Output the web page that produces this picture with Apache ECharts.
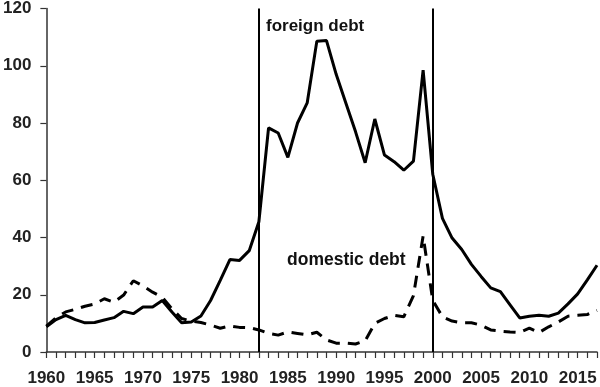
<!DOCTYPE html>
<html>
<head>
<meta charset="utf-8">
<script src="https://cdn.jsdelivr.net/npm/echarts@6/dist/echarts.min.js"></script>
<style>html,body{margin:0;padding:0;background:#fff}#c{width:600px;height:387px}</style>
</head>
<body>
<div id="c"></div>
<script>
var years = [];
for (var y = 1960; y <= 2017; y++) years.push(y);

var foreignDebt = [
  8.8, 11.3, 12.8, 11.3, 10.2, 10.3, 11.2, 12.0, 14.2, 13.4,
  15.7, 15.7, 18.0, 14.0, 10.2, 10.5, 12.6, 18.0, 25.0, 32.3,
  32.0, 35.4, 45.5, 78.3, 76.5, 68.0, 80.0, 87.0, 108.6, 108.8,
  97.0, 87.0, 77.0, 66.1, 81.4, 68.8, 66.5, 63.5, 66.7, 98.5,
  62.1, 46.7, 39.8, 35.8, 30.6, 26.4, 22.4, 21.1, 16.5, 11.9,
  12.5, 12.8, 12.5, 13.6, 16.8, 20.3, 25.2, 30.3
];
var domesticDebt = [
  9.0, 12.0, 14.0, 14.9, 16.0, 16.8, 18.6, 17.4, 19.9, 24.9,
  23.1, 20.9, 19.1, 15.1, 11.7, 10.8, 10.3, 9.4, 8.3, 9.1,
  8.6, 8.5, 7.7, 6.5, 5.9, 7.0, 6.5, 6.0, 6.9, 4.2,
  3.1, 3.1, 2.8, 3.9, 10.0, 11.7, 12.8, 12.3, 19.7, 40.5,
  18.0, 12.3, 10.8, 10.2, 10.2, 9.4, 7.7, 7.3, 7.0, 6.8,
  8.3, 6.8, 8.8, 10.5, 12.5, 12.8, 13.1, 14.5
];
var breakYears = [1982, 2000];
var yTicks = [0, 20, 40, 60, 80, 100, 120];
var labels = { foreign: 'foreign debt', domestic: 'domestic debt' };

function pairs(vals) {
  return years.map(function (yr, i) { return [yr, vals[i]]; });
}

var font = "'Liberation Sans', Arial, sans-serif";
var chart = echarts.init(document.getElementById('c'), null, { renderer: 'canvas' });
chart.setOption({
  animation: false,
  backgroundColor: '#fff',
  grid: { left: 43, right: 1, top: 5, bottom: 33, containLabel: false },
  xAxis: {
    type: 'value', min: years[0], max: years[years.length - 1], interval: 1,
    splitLine: { show: false },
    axisLine: { lineStyle: { color: '#333', width: 1.5 } },
    axisTick: { inside: false, length: 6, lineStyle: { color: '#333', width: 1.2 } },
    axisLabel: {
      margin: 18, color: '#222', fontFamily: font, fontWeight: 'bold', fontSize: 17,
      formatter: function (v) { return v % 5 === 0 ? String(v) : ''; }
    }
  },
  yAxis: {
    type: 'value', min: yTicks[0], max: yTicks[yTicks.length - 1], interval: 20,
    splitLine: { show: false },
    axisLine: { show: true, lineStyle: { color: '#333', width: 1.5 } },
    axisTick: { show: true, length: 6, lineStyle: { color: '#333', width: 1.2 } },
    axisLabel: { margin: 15, color: '#222', fontFamily: font, fontWeight: 'bold', fontSize: 17 }
  },
  series: [
    {
      type: 'line', name: labels.foreign, data: pairs(foreignDebt), symbol: 'none',
      lineStyle: { color: '#000', width: 3 },
      markLine: {
        silent: true, symbol: 'none', label: { show: false },
        lineStyle: { color: '#000', width: 2, type: 'solid' },
        data: breakYears.map(function (b) { return { xAxis: b }; })
      }
    },
    {
      type: 'line', name: labels.domestic, data: pairs(domesticDebt), symbol: 'none',
      lineStyle: { color: '#000', width: 3, type: [12, 8] }
    }
  ],
  graphic: [
    { type: 'text', left: 266, top: 18, style: { text: labels.foreign, fill: '#111', font: 'bold 17px ' + font } },
    { type: 'text', left: 287, top: 251, style: { text: labels.domestic, fill: '#111', font: 'bold 17.5px ' + font } }
  ]
});
</script>
</body>
</html>
